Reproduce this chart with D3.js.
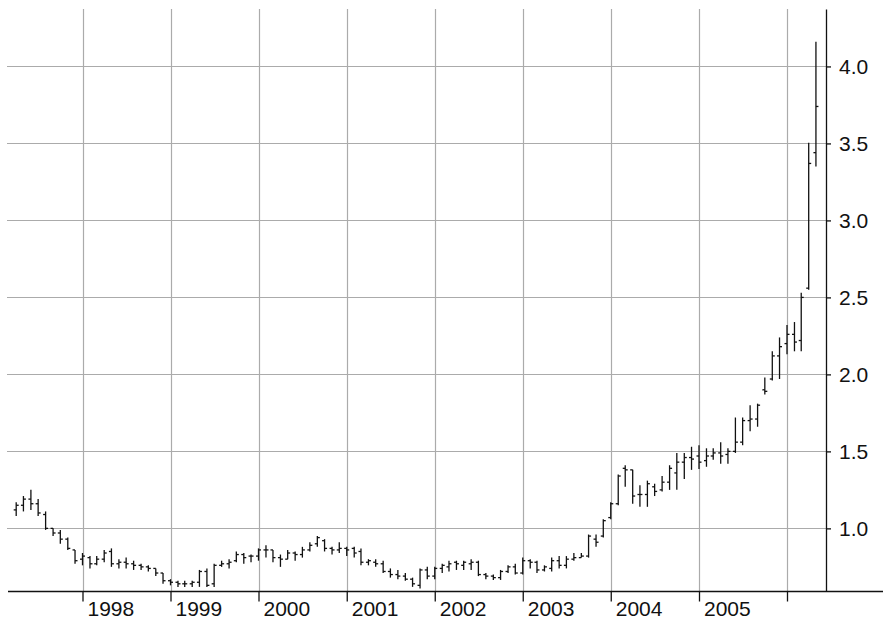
<!DOCTYPE html>
<html>
<head>
<meta charset="utf-8">
<script src="https://cdn.jsdelivr.net/npm/d3@7"></script>
<style>
  body { margin: 0; background: #fff; }
  svg { display: block; }
  .lbl { font-family: "Liberation Sans Narrow", "Liberation Sans", sans-serif; font-size: 21px; fill: #111; }
</style>
</head>
<body>
<div id="chart"></div>
<script>
// monthly bars, Apr 1997 - May 2006
const months = [
  "1997-04","1997-05","1997-06","1997-07","1997-08","1997-09","1997-10","1997-11","1997-12",
  "1998-01","1998-02","1998-03","1998-04","1998-05","1998-06","1998-07","1998-08","1998-09","1998-10","1998-11","1998-12",
  "1999-01","1999-02","1999-03","1999-04","1999-05","1999-06","1999-07","1999-08","1999-09","1999-10","1999-11","1999-12",
  "2000-01","2000-02","2000-03","2000-04","2000-05","2000-06","2000-07","2000-08","2000-09","2000-10","2000-11","2000-12",
  "2001-01","2001-02","2001-03","2001-04","2001-05","2001-06","2001-07","2001-08","2001-09","2001-10","2001-11","2001-12",
  "2002-01","2002-02","2002-03","2002-04","2002-05","2002-06","2002-07","2002-08","2002-09","2002-10","2002-11","2002-12",
  "2003-01","2003-02","2003-03","2003-04","2003-05","2003-06","2003-07","2003-08","2003-09","2003-10","2003-11","2003-12",
  "2004-01","2004-02","2004-03","2004-04","2004-05","2004-06","2004-07","2004-08","2004-09","2004-10","2004-11","2004-12",
  "2005-01","2005-02","2005-03","2005-04","2005-05","2005-06","2005-07","2005-08","2005-09","2005-10","2005-11","2005-12",
  "2006-01","2006-02","2006-03","2006-04","2006-05"
];

const open = [
  1.12,1.15,1.19,1.16,1.09,1.00,0.97,0.93,0.86,
  0.80,0.81,0.77,0.80,0.85,0.77,0.78,0.77,0.76,0.75,0.74,0.71,
  0.66,0.65,0.64,0.64,0.65,0.72,0.64,0.76,0.77,0.79,0.83,0.82,
  0.82,0.86,0.86,0.81,0.80,0.84,0.83,0.86,0.90,0.92,0.87,0.86,
  0.87,0.87,0.85,0.78,0.78,0.77,0.72,0.70,0.69,0.67,0.63,0.73,
  0.69,0.74,0.75,0.78,0.76,0.77,0.78,0.70,0.69,0.68,0.72,0.75,
  0.71,0.79,0.78,0.73,0.74,0.79,0.76,0.80,0.81,0.82,0.93,0.95,
  1.07,1.16,1.39,1.38,1.22,1.22,1.27,1.25,1.30,1.36,1.43,1.46,
  1.47,1.44,1.47,1.49,1.48,1.50,1.56,1.70,1.71,1.90,1.97,2.12,
  2.20,2.26,2.22,2.56,3.44
];

const high = [
  1.17,1.21,1.25,1.19,1.11,1.00,0.99,0.94,0.86,
  0.84,0.82,0.82,0.86,0.87,0.80,0.81,0.79,0.77,0.76,0.74,0.71,
  0.67,0.66,0.66,0.66,0.73,0.74,0.77,0.79,0.80,0.85,0.84,0.83,
  0.87,0.89,0.86,0.83,0.86,0.85,0.88,0.91,0.95,0.93,0.88,0.91,
  0.88,0.88,0.87,0.80,0.80,0.79,0.74,0.73,0.71,0.68,0.74,0.75,
  0.75,0.77,0.79,0.79,0.79,0.80,0.79,0.71,0.70,0.73,0.76,0.77,
  0.81,0.80,0.79,0.76,0.81,0.82,0.82,0.84,0.84,0.96,0.96,1.06,
  1.17,1.35,1.41,1.38,1.28,1.31,1.29,1.34,1.41,1.49,1.49,1.53,
  1.54,1.52,1.52,1.56,1.52,1.72,1.72,1.80,1.81,1.98,2.15,2.24,
  2.32,2.34,2.53,3.505,4.16
];

const low = [
  1.08,1.11,1.12,1.08,0.99,0.95,0.90,0.86,0.77,
  0.76,0.74,0.76,0.78,0.75,0.74,0.74,0.73,0.73,0.72,0.69,0.64,
  0.63,0.62,0.62,0.62,0.62,0.62,0.62,0.75,0.74,0.78,0.77,0.78,
  0.79,0.81,0.78,0.75,0.80,0.79,0.81,0.85,0.88,0.85,0.83,0.84,
  0.82,0.81,0.76,0.76,0.75,0.71,0.68,0.67,0.66,0.62,0.61,0.67,
  0.67,0.71,0.72,0.73,0.73,0.73,0.69,0.67,0.665,0.665,0.71,0.70,
  0.70,0.74,0.71,0.72,0.72,0.74,0.74,0.79,0.81,0.81,0.88,0.94,
  1.06,1.15,1.27,1.16,1.14,1.14,1.21,1.24,1.25,1.25,1.32,1.38,
  1.385,1.40,1.445,1.42,1.42,1.49,1.54,1.63,1.66,1.87,1.96,1.97,
  2.13,2.15,2.15,2.55,3.35
];

const close = [
  1.15,1.19,1.16,1.10,1.00,0.97,0.93,0.87,0.79,
  0.82,0.77,0.80,0.84,0.77,0.78,0.77,0.76,0.75,0.74,0.71,0.66,
  0.65,0.64,0.64,0.65,0.72,0.63,0.76,0.77,0.78,0.83,0.81,0.82,
  0.86,0.86,0.81,0.80,0.84,0.83,0.86,0.89,0.94,0.87,0.86,0.87,
  0.86,0.84,0.78,0.79,0.77,0.72,0.70,0.69,0.67,0.64,0.73,0.69,
  0.74,0.76,0.77,0.77,0.78,0.78,0.70,0.69,0.68,0.72,0.75,0.71,
  0.79,0.78,0.73,0.75,0.79,0.76,0.80,0.81,0.82,0.95,0.91,1.05,
  1.16,1.34,1.38,1.21,1.22,1.29,1.24,1.30,1.39,1.43,1.46,1.45,
  1.43,1.47,1.49,1.47,1.50,1.56,1.70,1.71,1.80,1.89,2.12,2.18,
  2.26,2.21,2.50,3.37,3.74
];

const yearTicks = ["1998","1999","2000","2001","2002","2003","2004","2005","2006"];
const yearLabels = ["1998","1999","2000","2001","2002","2003","2004","2005"];
const valueTicks = [1.0, 1.5, 2.0, 2.5, 3.0, 3.5, 4.0];

const W = 883, H = 617;
const plotLeft = 7, plotTop = 9, plotRight = 826, plotBottom = 591.5;

const parseMonth = d3.timeParse("%Y-%m");
const parseYear = d3.timeParse("%Y");

const data = months.map((m, i) => ({
  date: parseMonth(m), o: open[i], h: high[i], l: low[i], c: close[i]
}));

const x = d3.scaleTime()
  .domain([parseYear("1998"), parseYear("2006")])
  .range([82.5, 787]);

const y = d3.scaleLinear()
  .domain([0.59, 4.373])
  .range([plotBottom, plotTop]);

const svg = d3.select("#chart").append("svg")
  .attr("width", W)
  .attr("height", H);

const snap = v => Math.round(v) + 0.5;

// grid
svg.append("g").selectAll("line")
  .data(yearTicks)
  .enter().append("line")
  .attr("x1", d => snap(x(parseYear(d))))
  .attr("x2", d => snap(x(parseYear(d))))
  .attr("y1", plotTop)
  .attr("y2", plotBottom)
  .attr("stroke", "#ababab")
  .attr("stroke-width", 1.2);

svg.append("g").selectAll("line")
  .data(valueTicks)
  .enter().append("line")
  .attr("x1", plotLeft)
  .attr("x2", plotRight)
  .attr("y1", d => snap(y(d)))
  .attr("y2", d => snap(y(d)))
  .attr("stroke", "#ababab")
  .attr("stroke-width", 1.2);

// OHLC bars
const bars = svg.append("g")
  .attr("stroke", "#111")
  .attr("stroke-width", 1.3);

const bar = bars.selectAll("g")
  .data(data)
  .enter().append("g");

bar.append("line")
  .attr("x1", d => x(d.date))
  .attr("x2", d => x(d.date))
  .attr("y1", d => y(d.h))
  .attr("y2", d => y(d.l));

bar.append("line")
  .attr("x1", d => x(d.date) - 2.5)
  .attr("x2", d => x(d.date))
  .attr("y1", d => y(d.o))
  .attr("y2", d => y(d.o));

bar.append("line")
  .attr("x1", d => x(d.date))
  .attr("x2", d => x(d.date) + 2.5)
  .attr("y1", d => y(d.c))
  .attr("y2", d => y(d.c));

// bottom axis
const xAxis = svg.append("g")
  .attr("transform", `translate(0,${plotBottom})`)
  .call(d3.axisBottom(x)
    .tickValues(yearTicks.map(parseYear))
    .tickSize(10)
    .tickSizeOuter(0)
    .tickFormat(d => {
      const s = d3.timeFormat("%Y")(d);
      return yearLabels.includes(s) ? s : "";
    }));
xAxis.select(".domain").remove();
xAxis.selectAll(".tick line").attr("stroke", "#111").attr("stroke-width", 1.3);
xAxis.selectAll(".tick text")
  .attr("class", "lbl")
  .attr("text-anchor", "start")
  .attr("x", 4.5)
  .attr("y", 24.5)
  .attr("dy", null);

svg.append("line")
  .attr("x1", 8)
  .attr("x2", W)
  .attr("y1", plotBottom)
  .attr("y2", plotBottom)
  .attr("stroke", "#111")
  .attr("stroke-width", 1.5);

// right axis
const yAxis = svg.append("g")
  .attr("transform", `translate(${snap(plotRight) - 0.5},0)`)
  .call(d3.axisRight(y)
    .tickValues(valueTicks)
    .tickSize(5)
    .tickSizeOuter(0)
    .tickFormat(d3.format(".1f")));
yAxis.select(".domain").attr("stroke", "#111").attr("stroke-width", 1.3);
yAxis.selectAll(".tick line").attr("stroke", "#111").attr("stroke-width", 1.3);
yAxis.selectAll(".tick text")
  .attr("class", "lbl")
  .attr("x", 13);
</script>
</body>
</html>
